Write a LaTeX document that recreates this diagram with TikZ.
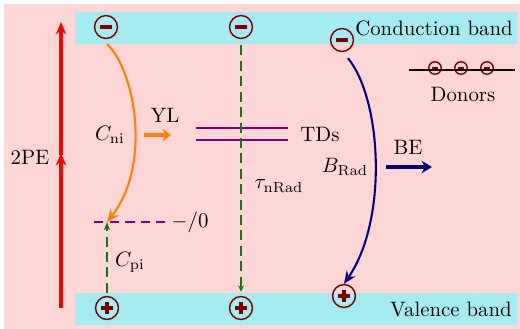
\documentclass[tikz,border=0pt]{standalone}
\usetikzlibrary{arrows.meta}
\definecolor{bgpink}{RGB}{255,214,214}
\definecolor{bandcyan}{RGB}{164,236,242}
\definecolor{darkred}{RGB}{128,0,0}
\definecolor{myorange}{RGB}{255,128,0}
\definecolor{mygreen}{RGB}{20,120,20}
\definecolor{mypurple}{RGB}{128,0,128}
\definecolor{mynavy}{RGB}{0,0,128}
\begin{document}
\begin{tikzpicture}[x=0.48pt,y=-0.48pt,
  elec/.style={circle,draw=darkred,line width=0.7pt,minimum size=#1,inner sep=0pt,
    path picture={\fill[darkred] ([xshift=-0.27*#1,yshift=-0.07*#1]path picture bounding box.center) rectangle ([xshift=0.27*#1,yshift=0.07*#1]path picture bounding box.center);}},
  elec/.default=11pt,
  hole/.style={circle,draw=darkred,line width=0.7pt,minimum size=11pt,inner sep=0pt,
    path picture={\fill[darkred] ([xshift=-3pt,yshift=-0.75pt]path picture bounding box.center) rectangle ([xshift=3pt,yshift=0.75pt]path picture bounding box.center);
      \fill[darkred] ([xshift=-0.75pt,yshift=-3pt]path picture bounding box.center) rectangle ([xshift=0.75pt,yshift=3pt]path picture bounding box.center);}},
  lbl/.style={inner sep=1pt,font=\normalsize},
  gdash/.style={draw=mygreen,line width=1.15pt,dash pattern=on 4.8pt off 2.6pt},
]
\useasboundingbox (0,0) rectangle (520,329);
\fill[bgpink] (4,4) rectangle (520,329);
\fill[bandcyan] (75,12) rectangle (517,44);
\fill[bandcyan] (75,293) rectangle (517,325);

% band labels
\node[lbl] (cb) at (434,28) {Conduction band};
\node[lbl] (vb) at (451,310) {Valence band};

% electrons and holes
\node[elec] (e1) at (106,27) {};
\node[elec] (e2) at (241,27) {};
\node[elec] (e3) at (342,40) {};
\node[hole] (h1) at (107,308) {};
\node[hole] (h2) at (241,308) {};
\node[hole] (h3) at (344,296) {};

% 2PE arrows
\coordinate (pa) at (61,308);
\coordinate (pb) at (61,153);
\coordinate (pc) at (61,155);
\coordinate (pd) at (61,22);
\draw[red,line width=1.8pt,-{Stealth[length=6pt,width=5pt]}] (pa) -- (pb);
\draw[red,line width=1.8pt,-{Stealth[length=6pt,width=5pt]}] (pc) -- (pd);
\node[lbl] (pe) at (30,157) {2PE};

% defect level -/0
\coordinate (lvl) at (107,222);
\coordinate (la) at (94,222);
\coordinate (lb) at (165,222);
\draw[mypurple,line width=0.8pt,dash pattern=on 4.5pt off 3pt] (la) -- (lb);
\node[lbl] (lv) at (190,222) {$-/0$};

% orange C_ni
\draw[myorange,line width=1pt,-{Stealth[length=6pt,width=5pt]}] (e1.south)+(1,5) .. controls (135,70) and (152,165) .. (lvl);
\node[lbl] (cni) at (110,135) {$C_{\mathrm{ni}}$};

% YL
\coordinate (ya) at (144,135);
\coordinate (yb) at (171,135);
\draw[myorange,line width=2pt,-{Stealth[length=4pt,width=6pt]}] (ya) -- (yb);
\node[lbl] (yl) at (165,115) {YL};

% C_pi green
\draw[gdash,-{Stealth[length=4pt,width=3pt]}] (h1.north)+(0,-3) -- (lvl);
\node[lbl] (cpi) at (130,262) {$C_{\mathrm{pi}}$};

% TDs
\coordinate (t1a) at (196,128);
\coordinate (t1b) at (288,128);
\coordinate (t2a) at (196,140);
\coordinate (t2b) at (288,140);
\draw[mypurple,line width=0.8pt] (t1a) -- (t1b);
\draw[mypurple,line width=0.8pt] (t2a) -- (t2b);
\node[lbl] (tds) at (320,134) {TDs};

% tau nRad
\draw[gdash,shorten <=3pt,shorten >=2pt,-{Stealth[length=3pt,width=3pt]}] (e2) -- (h2);
\node[lbl] (tau) at (279,186) {$\tau_{\mathrm{nRad}}$};

% B_Rad navy
\draw[mynavy,line width=1pt,-{Stealth[length=6pt,width=5pt]}] (e3.south)+(6,6) .. controls (382,100) and (388,220) .. (h3.north);
\node[lbl] (brad) at (345,167) {$B_{\mathrm{Rad}}$};

% BE
\coordinate (ba) at (386,167);
\coordinate (bb) at (432,167);
\draw[mynavy,line width=2pt,-{Stealth[length=5pt,width=6pt]}] (ba) -- (bb);
\node[lbl] (be) at (408,147) {BE};

% Donors
\coordinate (da) at (409,70);
\coordinate (db) at (515,70);
\node[elec=6pt] (d1) at (435,68) {};
\node[elec=6pt] (d2) at (461,68) {};
\node[elec=6pt] (d3) at (487,68) {};
\draw[black,line width=0.9pt] (da) -- (db);
\node[lbl] (don) at (463,94) {Donors};
\end{tikzpicture}
\end{document}
